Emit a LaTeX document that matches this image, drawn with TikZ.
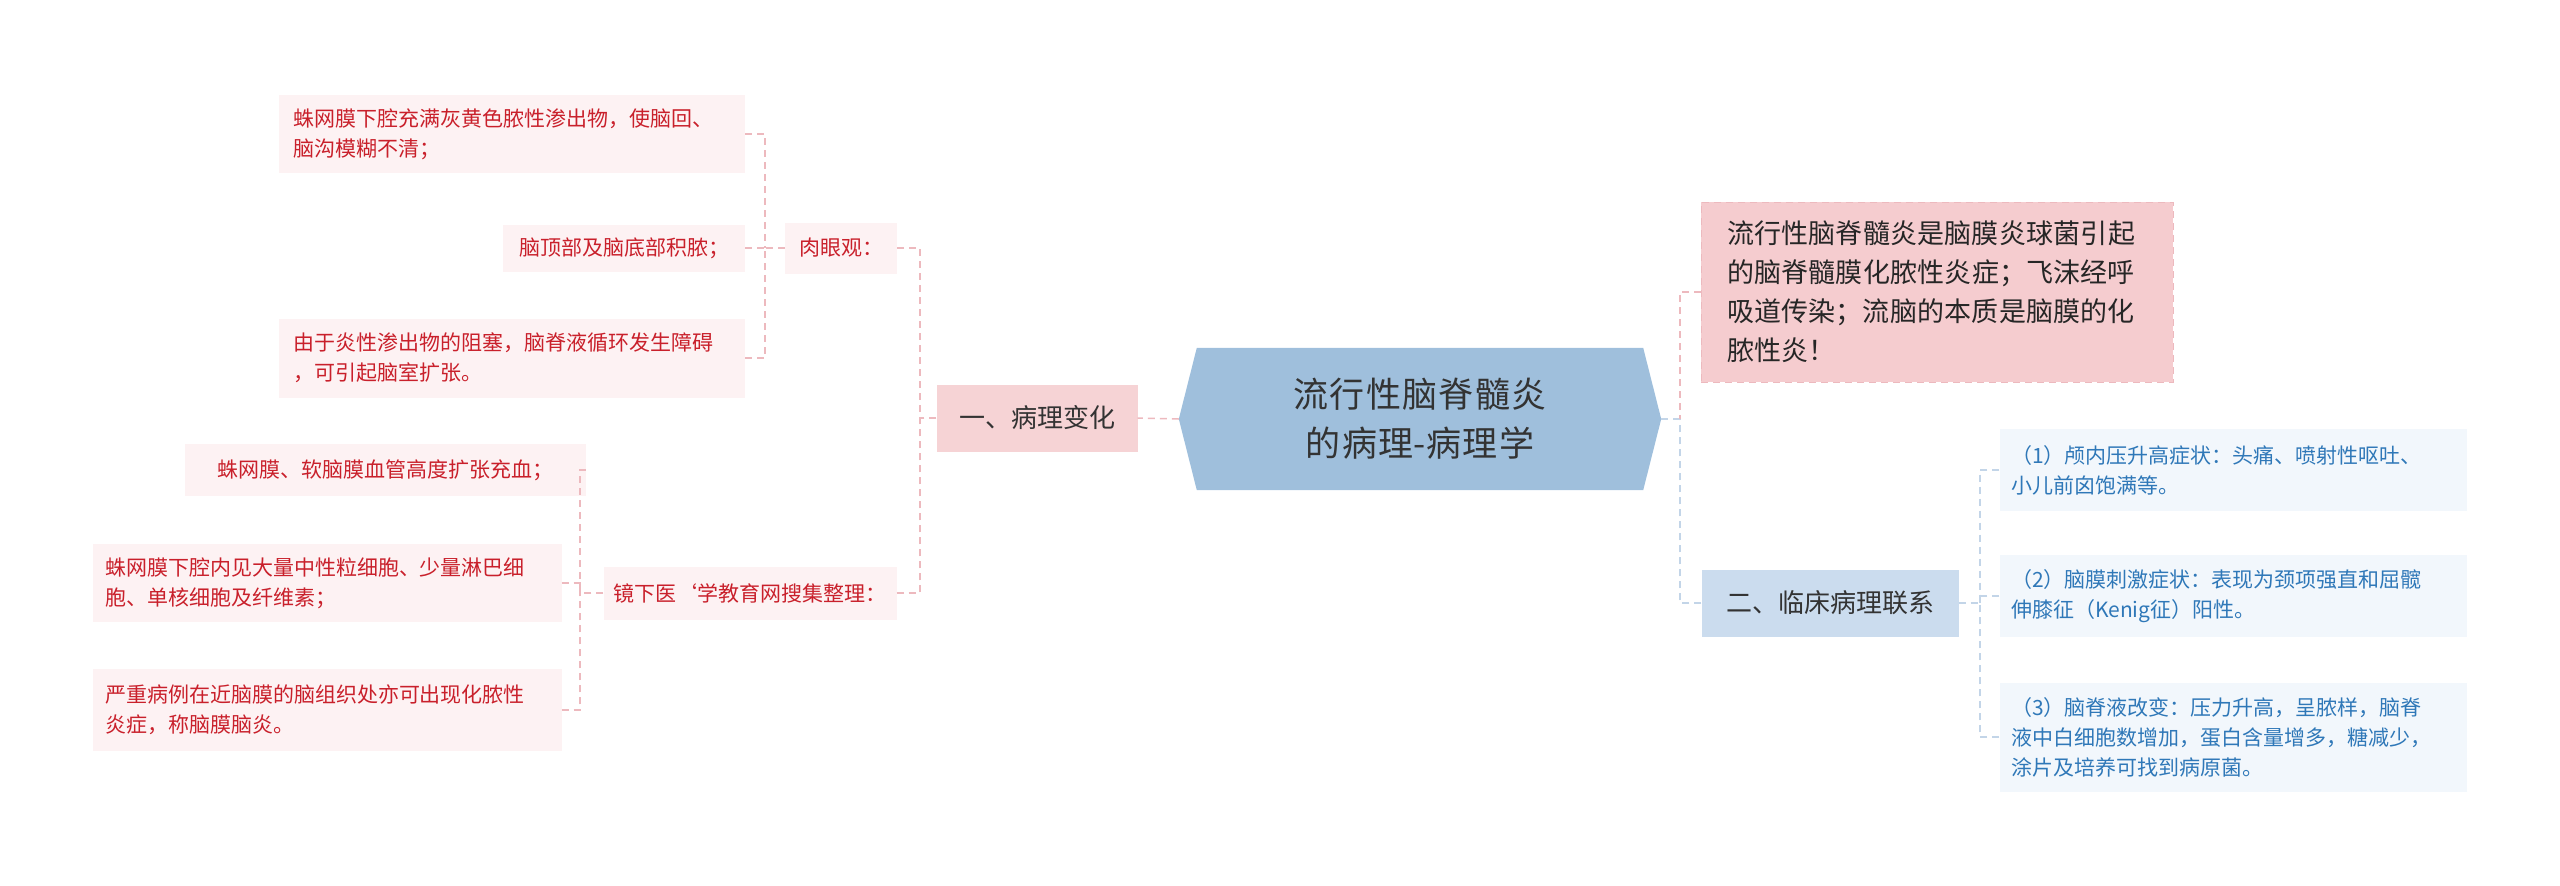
\documentclass[tikz,border=0pt]{standalone}
\usepackage{fontspec}
\setmainfont{Noto Sans CJK SC}
\XeTeXlinebreaklocale "zh"
\XeTeXlinebreakskip=0pt plus 1pt
\usetikzlibrary{calc}
\definecolor{pl}{HTML}{EDB9BE}
\definecolor{bl}{HTML}{C3D5E8}
\definecolor{pleaf}{HTML}{FDF2F3}
\definecolor{ptx}{HTML}{C9202B}
\definecolor{bleaf}{HTML}{F2F7FC}
\definecolor{btx}{HTML}{2F78B8}
\definecolor{cfill}{HTML}{9FBFDC}
\definecolor{afill}{HTML}{F6D3D5}
\definecolor{dfill}{HTML}{F5CCCF}
\definecolor{bfill}{HTML}{CBDCEE}
\tikzset{x=1pt,y=-1pt,
 base/.style={inner sep=0pt,align=left,anchor=center},
 pleafs/.style={base,fill=pleaf,text=ptx,font=\fontsize{21}{30}\selectfont},
 bleafs/.style={base,fill=bleaf,text=btx,font=\fontsize{21}{30}\selectfont},
 plink/.style={draw=pl,dash pattern=on 7pt off 5pt,line width=1.5pt},
 blink/.style={draw=bl,dash pattern=on 7pt off 5pt,line width=1.5pt}}
\begin{document}
\begin{tikzpicture}
\useasboundingbox (0,0) rectangle (2560,886);
% center
\node[base,minimum width=482,minimum height=142] (c) at (1420,419) {};
\fill[cfill] (c.west)--($(c.north west)+(18,0)$)--($(c.north east)+(-18,0)$)--(c.east)--($(c.south east)+(-18,0)$)--($(c.south west)+(18,0)$)--cycle;
\node[base,align=center,text width=440,text=black!80,font=\fontsize{35}{49}\selectfont] at (c) {流行性脑脊髓炎的病理-病理学};
% left
\node[base,fill=afill,minimum width=201,minimum height=67,text=black!80,font=\fontsize{26}{34}\selectfont] (a) at (1037,418) {一、病理变化};
\node[pleafs,minimum width=112,minimum height=51] (a1) at (841,248) {肉眼观：};
\node[pleafs,minimum width=293,minimum height=53] (a2) at (750,593) {镜下医\symbol{96}学教育网搜集整理：};
\node[pleafs,minimum width=466,minimum height=78,text width=438] (l1) at (512,134) {蛛网膜下腔充满灰黄色脓性渗出物，使脑回、\\脑沟模糊不清；};
\node[pleafs,minimum width=242,minimum height=47] (l2) at (624,248) {脑顶部及脑底部积脓；};
\node[pleafs,minimum width=466,minimum height=79,text width=438] (l3) at (512,358) {由于炎性渗出物的阻塞，脑脊液循环发生障碍\\，可引起脑室扩张。};
\node[pleafs,minimum width=401,minimum height=52] (l4) at (385,470) {蛛网膜、软脑膜血管高度扩张充血；};
\node[pleafs,minimum width=469,minimum height=78,text width=444] (l5) at (327,583) {蛛网膜下腔内见大量中性粒细胞、少量淋巴细\\胞、单核细胞及纤维素；};
\node[pleafs,minimum width=469,minimum height=82,text width=444] (l6) at (327,710) {严重病例在近脑膜的脑组织处亦可出现化脓性\\炎症，称脑膜脑炎。};
% right
\node[base,fill=dfill,draw=pl,dash pattern=on 7pt off 5pt,minimum width=472,minimum height=180,text width=420,text=black!85,font=\fontsize{27}{39}\selectfont] (b0) at (1937,292) {流行性脑脊髓炎是脑膜炎球菌引起的脑脊髓膜化脓性炎症；飞沫经呼吸道传染；流脑的本质是脑膜的化脓性炎！};
\node[base,fill=bfill,minimum width=257,minimum height=67,text=black!80,font=\fontsize{26}{34}\selectfont] (b) at (1830,603) {二、临床病理联系};
\node[bleafs,minimum width=467,minimum height=82,text width=444] (r1) at (2233,470) {（1）颅内压升高症状：头痛、喷射性呕吐、\\小儿前囟饱满等。};
\node[bleafs,minimum width=467,minimum height=82,text width=444] (r2) at (2233,596) {（2）脑膜刺激症状：表现为颈项强直和屈髋\\伸膝征（Kenig征）阳性。};
\node[bleafs,minimum width=467,minimum height=109,text width=444] (r3) at (2233,737) {（3）脑脊液改变：压力升高，呈脓样，脑脊\\液中白细胞数增加，蛋白含量增多，糖减少，\\涂片及培养可找到病原菌。};
% links left
\draw[plink] (c.west)--(a.east);
\coordinate (j1) at (920,418);
\draw[plink] (a.west)--(j1);
\draw[plink] (a1.east)-|(j1);
\draw[plink] (a2.east)-|(j1);
\coordinate (j2) at (765,248);
\draw[plink] (a1.west)--(j2);
\draw[plink] (l1.east)-|(j2); \draw[plink] (l2.east)--(j2); \draw[plink] (l3.east)-|(j2);
\coordinate (j3) at (580,593);
\draw[plink] (a2.west)--(j3);
\draw[plink] (l4.east)-|(j3); \draw[plink] (l5.east)-|(j3); \draw[plink] (l6.east)-|(j3);
% links right
\coordinate (k1) at (1680,419);
\draw[blink] (c.east)--(k1);
\draw[plink] (b0.west)-|(k1);
\draw[blink] (b.west)-|(k1);
\coordinate (k2) at (1980,603);
\draw[blink] (b.east)--(k2);
\draw[blink] (r1.west)-|(k2); \draw[blink] (r2.west)-|(k2); \draw[blink] (r3.west)-|(k2);
\end{tikzpicture}
\end{document}
